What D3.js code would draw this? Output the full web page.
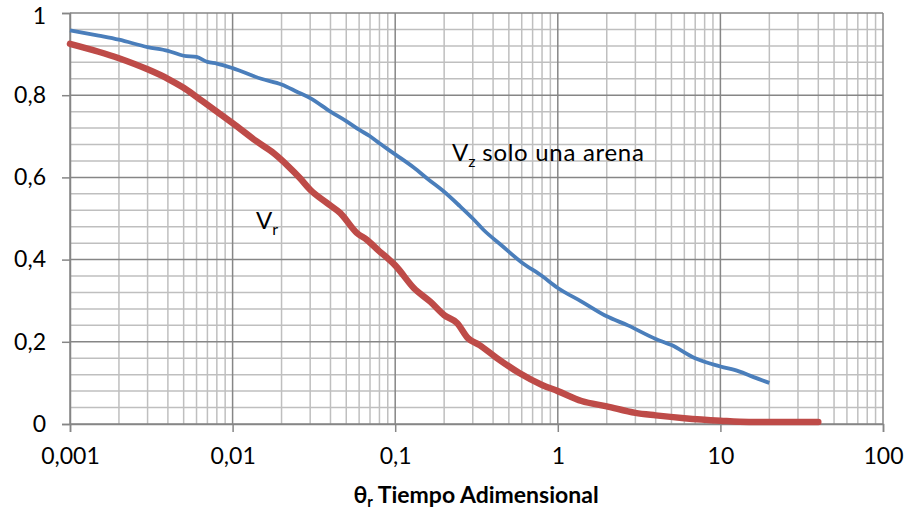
<!DOCTYPE html>
<html>
<head>
<meta charset="utf-8">
<script src="https://cdn.jsdelivr.net/npm/d3@7"></script>
<style>
  body { margin: 0; background: #fff; }
  svg text { font-family: Lato, "Open Sans", sans-serif; fill: #000; }
</style>
</head>
<body>
<div class="chart"></div>
<script>
// Vz solo una arena (blue)
const vzTime = [0.001, 0.0015, 0.002, 0.003, 0.004, 0.005, 0.006, 0.007, 0.008, 0.01,
  0.015, 0.02, 0.025, 0.03, 0.04, 0.05, 0.06, 0.07, 0.08, 0.1,
  0.13, 0.16, 0.2, 0.25, 0.3, 0.35, 0.45, 0.6, 0.8, 1,
  1.4, 2, 2.7, 4, 5, 7, 10, 13, 16, 20];
const vzValues = [0.958, 0.945, 0.935, 0.917, 0.908, 0.896, 0.893, 0.881, 0.877, 0.866,
  0.840, 0.826, 0.808, 0.793, 0.760, 0.737, 0.716, 0.700, 0.683, 0.656,
  0.624, 0.595, 0.565, 0.530, 0.500, 0.472, 0.435, 0.393, 0.360, 0.331,
  0.298, 0.262, 0.240, 0.207, 0.192, 0.160, 0.140, 0.128, 0.114, 0.100];

// Vr (red)
const vrTime = [0.001, 0.002, 0.003, 0.004, 0.005, 0.006, 0.008, 0.01, 0.014, 0.018,
  0.022, 0.026, 0.03, 0.038, 0.046, 0.058, 0.067, 0.08, 0.09, 0.1,
  0.13, 0.165, 0.2, 0.24, 0.28, 0.33, 0.42, 0.58, 0.8, 1,
  1.4, 2, 3, 4, 6, 10, 15, 25, 40];
const vrValues = [0.925, 0.890, 0.863, 0.840, 0.818, 0.796, 0.760, 0.732, 0.688, 0.658,
  0.627, 0.598, 0.570, 0.538, 0.513, 0.465, 0.448, 0.420, 0.403, 0.386,
  0.331, 0.297, 0.265, 0.246, 0.209, 0.192, 0.161, 0.124, 0.095, 0.080,
  0.056, 0.043, 0.027, 0.021, 0.014, 0.008, 0.005, 0.005, 0.005];

const xTicks = [0.001, 0.01, 0.1, 1, 10, 100];
const xTickLabels = ["0,001", "0,01", "0,1", "1", "10", "100"];
const yTicks = [0, 0.2, 0.4, 0.6, 0.8, 1];
const xTitle = "Tiempo Adimensional";

const W = 907, H = 514;
const m = { left: 70, right: 24, top: 13, bottom: 90 };

const svg = d3.select(".chart").append("svg")
  .attr("width", W).attr("height", H);

const x = d3.scaleLog().domain([0.001, 100]).range([m.left, W - m.right]);
const y = d3.scaleLinear().domain([0, 1]).range([H - m.bottom, m.top]);

// minor grid
const minorX = [];
for (let e = -3; e < 2; e++) for (let k = 2; k <= 9; k++) minorX.push(k * Math.pow(10, e));
const minorY = d3.range(0, 1.0001, 0.04).filter(v => Math.abs(v * 5 - Math.round(v * 5)) > 1e-6);

const grid = svg.append("g");
grid.selectAll(".mx").data(minorX).enter().append("line")
  .attr("x1", d => x(d)).attr("x2", d => x(d))
  .attr("y1", y(0)).attr("y2", y(1))
  .attr("stroke", "#bfbfbf").attr("stroke-width", 1.5);
grid.selectAll(".my").data(minorY).enter().append("line")
  .attr("x1", x(0.001)).attr("x2", x(100))
  .attr("y1", d => y(d)).attr("y2", d => y(d))
  .attr("stroke", "#bfbfbf").attr("stroke-width", 1.5);
grid.selectAll(".Mx").data(xTicks).enter().append("line")
  .attr("x1", d => x(d)).attr("x2", d => x(d))
  .attr("y1", y(0)).attr("y2", y(1))
  .attr("stroke", "#868686").attr("stroke-width", 1.5);
grid.selectAll(".My").data(yTicks).enter().append("line")
  .attr("x1", x(0.001)).attr("x2", x(100))
  .attr("y1", d => y(d)).attr("y2", d => y(d))
  .attr("stroke", "#868686").attr("stroke-width", 1.5);

// axes
const yAxis = svg.append("g")
  .attr("transform", `translate(${m.left},0)`)
  .call(d3.axisLeft(y).tickValues(yTicks).tickSize(8).tickPadding(16)
    .tickFormat(d => d === 0 || d === 1 ? String(d) : String(d).replace(".", ",")));
yAxis.select(".domain").attr("stroke", "#868686").attr("stroke-width", 1.5);
yAxis.selectAll(".tick line").attr("stroke", "#868686").attr("stroke-width", 1.5);
yAxis.selectAll("text").attr("font-size", 23).attr("font-family", "Lato");
// keep the top label's box inside the picture
yAxis.selectAll(".tick text").filter(d => d === 1).attr("dy", "0.45em");

const xAxis = svg.append("g")
  .attr("transform", `translate(0,${H - m.bottom})`)
  .call(d3.axisBottom(x).tickValues(xTicks).tickSize(8).tickPadding(16)
    .tickFormat((d, i) => xTickLabels[i]));
xAxis.select(".domain").attr("stroke", "#868686").attr("stroke-width", 1.5);
xAxis.selectAll(".tick line").attr("stroke", "#868686").attr("stroke-width", 1.5);
xAxis.selectAll("text").attr("font-size", 23).attr("font-family", "Lato");

// series
const line = d3.line().x(d => x(d[0])).y(d => y(d[1])).curve(d3.curveMonotoneX);

svg.append("path")
  .datum(d3.zip(vzTime, vzValues))
  .attr("d", line)
  .attr("fill", "none").attr("stroke", "#4a7ebb")
  .attr("stroke-width", 3.8).attr("stroke-linejoin", "round");

svg.append("path")
  .datum(d3.zip(vrTime, vrValues))
  .attr("d", line)
  .attr("fill", "none").attr("stroke", "#be4b48")
  .attr("stroke-width", 6.5).attr("stroke-linejoin", "round").attr("stroke-linecap", "round");

// annotations
const vzLabel = svg.append("text").attr("x", 452).attr("y", 161).attr("font-size", 24);
vzLabel.append("tspan").text("V");
vzLabel.append("tspan").attr("font-size", 16).attr("dy", 6).text("z");
vzLabel.append("tspan").attr("dy", -6).attr("letter-spacing", 0.7)
  .text(" solo una arena");

const vrLabel = svg.append("text").attr("x", 256).attr("y", 229).attr("font-size", 24);
vrLabel.append("tspan").text("V");
vrLabel.append("tspan").attr("font-size", 16).attr("dy", 6).text("r");

// x axis title
const title = svg.append("text")
  .attr("x", 476).attr("y", 503)
  .attr("text-anchor", "middle")
  .attr("font-size", 23).attr("font-weight", "bold");
title.append("tspan").text("θ");
title.append("tspan").attr("font-size", 15).attr("dy", 4).text("r");
title.append("tspan").attr("dy", -4).text(" " + xTitle);
</script>
</body>
</html>
